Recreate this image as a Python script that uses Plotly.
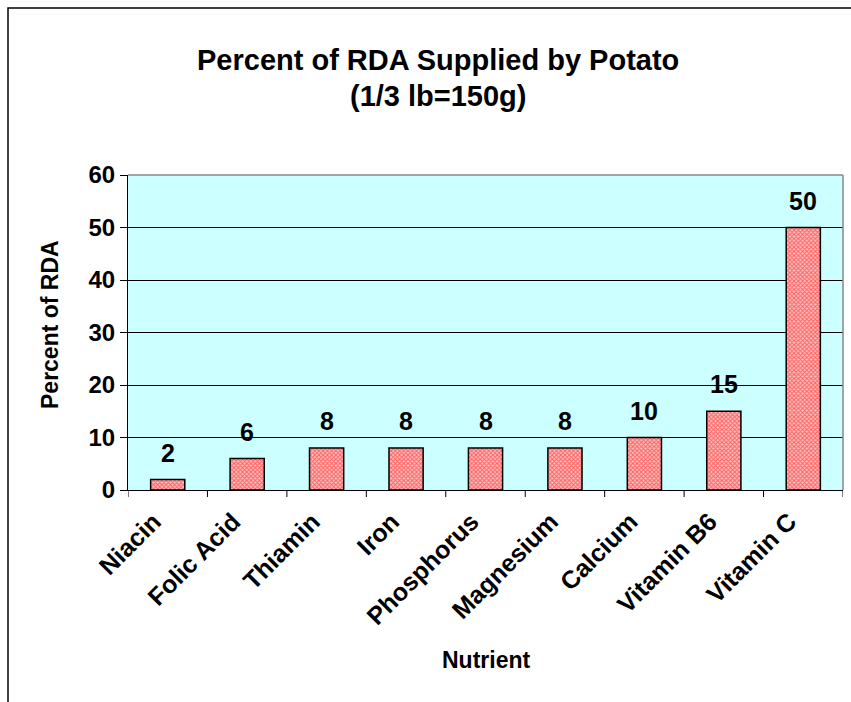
import plotly.graph_objects as go

nutrients = ["Niacin", "Folic Acid", "Thiamin", "Iron", "Phosphorus",
             "Magnesium", "Calcium", "Vitamin B6", "Vitamin C"]
percent_rda = [2, 6, 8, 8, 8, 8, 10, 15, 50]
y_ticks = [0, 10, 20, 30, 40, 50, 60]

W, H = 851, 702
L, R, T, B = 128, 8, 175, 212
pw, ph = W - L - R, H - T - B

def px(x):
    return (x - L) / pw

def py(y):
    return (H - B - y) / ph

font = "Liberation Sans, Arial, sans-serif"

def f(size):
    return dict(family=font, size=size, color="#000", weight="bold")

fig = go.Figure()
fig.add_trace(go.Bar(
    x=nutrients, y=percent_rda, width=0.43,
    marker=dict(color="#FFFFFF",
                line=dict(color="#000000", width=1.5),
                pattern=dict(shape="x", fgcolor="#FF0000", bgcolor="#FFC0C0",
                             size=3, solidity=0.55)),
    hoverinfo="skip",
))

for n, v in zip(nutrients, percent_rda):
    fig.add_annotation(x=n, y=v, text=str(v), showarrow=False,
                       yanchor="bottom", yshift=11, font=f(25))

fig.add_annotation(xref="paper", yref="paper", x=px(438), y=py(60),
                   text="Percent of RDA Supplied by Potato", showarrow=False,
                   xanchor="center", yanchor="middle", font=f(29))
fig.add_annotation(xref="paper", yref="paper", x=px(438), y=py(96),
                   text="(1/3 lb=150g)", showarrow=False,
                   xanchor="center", yanchor="middle", font=f(29))
fig.add_annotation(xref="paper", yref="paper", x=px(486), y=py(660),
                   text="Nutrient", showarrow=False,
                   xanchor="center", yanchor="middle", font=f(23))
fig.add_annotation(xref="paper", yref="paper", x=px(50), y=py(325),
                   text="Percent of RDA", showarrow=False, textangle=-90,
                   xanchor="center", yanchor="middle", font=f(23))

# outer chart frame
fig.add_shape(type="rect", xref="paper", yref="paper",
              x0=px(8), y0=py(720), x1=px(870), y1=py(8),
              line=dict(color="#000", width=1.5), layer="below")

fig.update_layout(
    width=W, height=H,
    margin=dict(l=L, r=R, t=T, b=B),
    paper_bgcolor="white", plot_bgcolor="#CCFFFF",
    showlegend=False,
    xaxis=dict(showgrid=False, showline=True, linecolor="#000", linewidth=1,
               ticks="", tickangle=-45, tickfont=f(25),
               ticklabelshift=-14, ticklabelstandoff=6,
               range=[-0.5, 8.5]),
    yaxis=dict(range=[0, 60], tickvals=y_ticks, showgrid=True, gridcolor="#000",
               gridwidth=1, showline=True, linecolor="#000", linewidth=1,
               ticks="outside", ticklen=7, tickcolor="#000", tickfont=f(24),
               zeroline=False),
)

# category-boundary tick marks on x axis and gray plot border (top/right)
for i in range(10):
    fig.add_shape(type="line", xref="x", yref="paper", x0=i - 0.5, x1=i - 0.5,
                  y0=0, y1=-7 / ph, line=dict(color="#000", width=1))
fig.add_shape(type="line", xref="paper", yref="paper", x0=0, x1=1, y0=1, y1=1,
              line=dict(color="#888", width=1.5))
fig.add_shape(type="line", xref="paper", yref="paper", x0=1, x1=1, y0=0, y1=1,
              line=dict(color="#888", width=1.5))

fig.write_html("out.html")
